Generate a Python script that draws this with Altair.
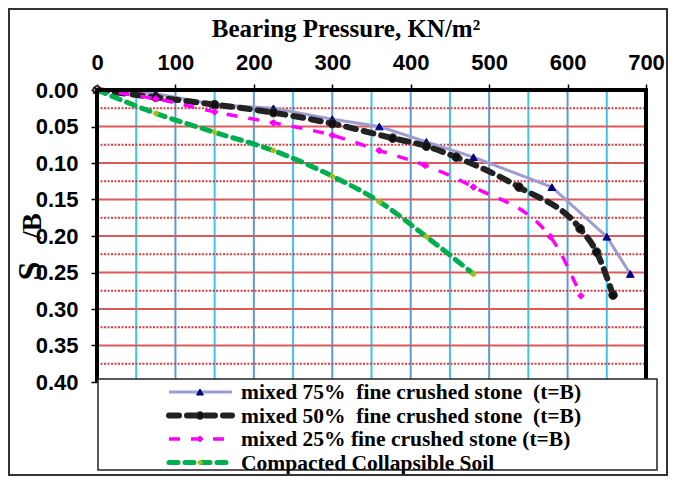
import altair as alt
import pandas as pd

# ---------------- data ----------------
x75 = [0, 75, 150, 225, 300, 360, 420, 480, 580, 650, 680]
y75 = [0.0, 0.005, 0.02, 0.025, 0.04, 0.05, 0.071, 0.092, 0.133, 0.201, 0.252]

x50 = [0, 75, 150, 225, 300, 377, 420, 458, 538, 616, 637, 658]
y50 = [0.0, 0.01, 0.02, 0.031, 0.046, 0.066, 0.077, 0.092, 0.133, 0.19, 0.222, 0.281]

x25 = [0, 75, 150, 225, 300, 360, 418, 480, 578, 617]
y25 = [0.0, 0.012, 0.03, 0.045, 0.062, 0.083, 0.103, 0.133, 0.201, 0.282]

xcs = [0, 75, 150, 225, 300, 360, 420, 480]
ycs = [0.0, 0.032, 0.058, 0.083, 0.118, 0.153, 0.201, 0.252]

labels = [
    "mixed 75%\u00a0\u00a0fine crushed stone\u00a0\u00a0(t=B)",
    "mixed 50%\u00a0\u00a0fine crushed stone\u00a0\u00a0(t=B)",
    "mixed 25% fine crushed stone (t=B)",
    "Compacted Collapsible Soil",
]

x_ticks = [0, 100, 200, 300, 400, 500, 600, 700]
y_ticks = [0.0, 0.05, 0.10, 0.15, 0.20, 0.25, 0.30, 0.35, 0.40]
v_grid_major = [100, 200, 300, 400, 500, 600]
v_grid_minor = [50, 150, 250, 350, 450, 550, 650]
h_grid_solid = [0.05, 0.10, 0.15, 0.20, 0.25, 0.30, 0.35]
h_grid_dash = [0.025, 0.075, 0.125, 0.175, 0.225, 0.275, 0.325, 0.375]

title_text = "Bearing Pressure, KN/m²"

# ---------------- layout ----------------
W, H = 549, 292
PAD = {"left": 89, "top": 82, "right": 22, "bottom": 94}

xs = alt.Scale(domain=[0, 700], nice=False, zero=False)
ys = alt.Scale(domain=[0, 0.40], reverse=True, nice=False, zero=False)

axis_font = "Liberation Sans"
x_axis = alt.Axis(
    orient="top", values=x_ticks, title=None, grid=False, domain=False,
    tickSize=6, tickColor="black", tickWidth=1.5, labelPadding=10,
    labelFont=axis_font, labelFontSize=22, labelColor="black",
    labelFontWeight="bold", labelFlush=False, labelOverlap=False)
y_axis = alt.Axis(
    orient="left", values=y_ticks, format=".2f", title=None, grid=False,
    domain=False, tickSize=6, tickColor="black", tickWidth=1.5,
    labelPadding=13, labelFont=axis_font, labelFontSize=22,
    labelFontWeight="bold", labelColor="black", labelFlush=False,
    labelOverlap=False)

def X(f):
    return alt.X(f, scale=xs, axis=x_axis)

def Y(f):
    return alt.Y(f, scale=ys, axis=y_axis)

styles = [
    dict(color="#9d9dd2", width=3, dash=[1, 0], cap="butt", shape="triangle-up",
         mfill="#000080", mstroke="#000080", msize=60, interp="linear"),
    dict(color="#222222", width=6, dash=[10, 8], cap="round", shape="circle",
         mfill="#111111", mstroke="#333333", msize=75, interp="monotone"),
    dict(color="#ff00ff", width=3.5, dash=[11, 11], cap="butt", shape="diamond",
         mfill="#ff00ff", mstroke="#ff00ff", msize=45, interp="monotone"),
    dict(color="#00b050", width=5, dash=[9, 7], cap="round", shape="diamond",
         mfill="#8fbf30", mstroke="#d4c400", msize=35, interp="monotone"),
]
series = [(x75, y75), (x50, y50), (x25, y25), (xcs, ycs)]

layers = []

# grid
def vrules(vals, color):
    df = pd.DataFrame({"x": vals})
    return alt.Chart(df).mark_rule(color=color, strokeWidth=2).encode(
        x=X("x:Q"), y=alt.value(0), y2=alt.value(H - 2))

def hrules(vals, color, dash):
    df = pd.DataFrame({"y": vals})
    return alt.Chart(df).mark_rule(color=color, strokeWidth=2, strokeDash=dash).encode(
        y=Y("y:Q"), x=alt.value(0), x2=alt.value(W))

layers.append(vrules(v_grid_minor, "#3cc3f0"))
layers.append(vrules(v_grid_major, "#5b9bd5"))
layers.append(hrules(h_grid_solid, "#dc5a5a", [1, 0]))
layers.append(hrules(h_grid_dash, "#e03a3a", [2, 1.5]))

# series
for (sx, sy), st in zip(series, styles):
    df = pd.DataFrame({"p": sx, "s": sy})
    base = alt.Chart(df).encode(x=X("p:Q"), y=Y("s:Q"))
    layers.append(base.mark_line(color=st["color"], strokeWidth=st["width"],
                                 strokeDash=st["dash"], strokeCap=st["cap"],
                                 interpolate=st["interp"]))
    layers.append(base.mark_point(shape=st["shape"], filled=True, fill=st["mfill"],
                                  stroke=st["mstroke"], strokeWidth=1,
                                  size=st["msize"], opacity=1))

# plot borders (top, left, right)
one = pd.DataFrame({"k": [0]})
layers.append(alt.Chart(one).mark_rule(color="black", strokeWidth=4).encode(
    x=alt.value(0), x2=alt.value(W), y=alt.value(0)))
layers.append(alt.Chart(one).mark_rule(color="black", strokeWidth=4).encode(
    x=alt.value(0), y=alt.value(-2), y2=alt.value(H)))
layers.append(alt.Chart(one).mark_rule(color="black", strokeWidth=4).encode(
    x=alt.value(W), y=alt.value(-2), y2=alt.value(H)))

# legend box
LX0, LX1, LY0, LY1 = 1, 560, H - 3, H + 88
layers.append(alt.Chart(one).mark_rect(fill="white", stroke="#222222", strokeWidth=1.5).encode(
    x=alt.value(LX0), x2=alt.value(LX1), y=alt.value(LY0), y2=alt.value(LY1)))

row_y = [LY0 + 13 + 23.5 * i for i in range(4)]
for lab, st, ry in zip(labels, styles, row_y):
    layers.append(alt.Chart(one).mark_rule(color=st["color"], strokeWidth=st["width"],
                                           strokeDash=st["dash"], strokeCap=st["cap"]).encode(
        x=alt.value(72), x2=alt.value(135), y=alt.value(ry)))
    layers.append(alt.Chart(one).mark_point(shape=st["shape"], filled=True, fill=st["mfill"],
                                            stroke=st["mstroke"], strokeWidth=1,
                                            size=st["msize"] * 0.8, opacity=1).encode(
        x=alt.value(103), y=alt.value(ry)))
    layers.append(alt.Chart(pd.DataFrame({"t": [lab]})).mark_text(
        font="Liberation Serif", fontWeight="bold", fontSize=21.5, align="left",
        baseline="middle", color="black").encode(
        x=alt.value(144), y=alt.value(ry + 1), text="t:N"))

# title and y title
layers.append(alt.Chart(pd.DataFrame({"t": [title_text]})).mark_text(
    font="Liberation Serif", fontWeight="bold", fontSize=25, align="center",
    baseline="alphabetic", color="black").encode(
    x=alt.value(249), y=alt.value(-53), text="t:N"))
layers.append(alt.Chart(pd.DataFrame({"t": ["S"]})).mark_text(
    font="Liberation Serif", fontWeight="bold", fontSize=34, align="center",
    baseline="middle", angle=270, color="black").encode(
    x=alt.value(-66), y=alt.value(181), text="t:N"))
layers.append(alt.Chart(pd.DataFrame({"t": ["/B"]})).mark_text(
    font="Liberation Serif", fontWeight="bold", fontSize=27, align="center",
    baseline="middle", angle=270, color="black").encode(
    x=alt.value(-64), y=alt.value(136), text="t:N"))

# outer frame
layers.append(alt.Chart(one).mark_rect(fill=None, stroke="#333333", strokeWidth=2).encode(
    x=alt.value(-88), x2=alt.value(W + 21), y=alt.value(-81), y2=alt.value(H + 93)))

chart = alt.layer(*layers).properties(
    width=W, height=H, padding=PAD,
    autosize=alt.AutoSizeParams(type="none"),
).configure_view(stroke=None).configure(background="white")

chart.save("out.html", embed_options={"renderer": "svg", "actions": False})
